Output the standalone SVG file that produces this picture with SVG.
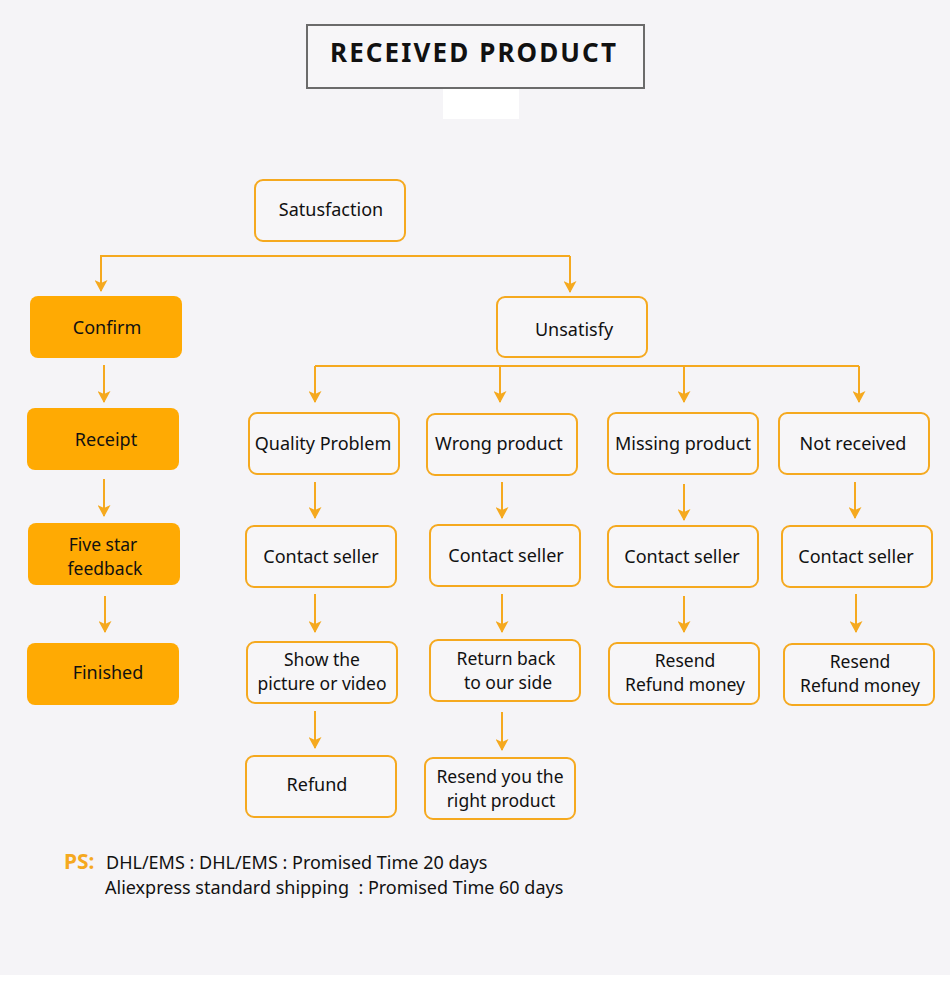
<svg xmlns="http://www.w3.org/2000/svg" width="950" height="982" viewBox="0 0 950 982">
<style>
.bg{fill:#F5F4F7}
.box{fill:#F7F6F8;stroke:#F5A91F;stroke-width:2}
.fill{fill:#FFAA03;stroke:none}
.t{font-family:"Noto Sans","Open Sans",sans-serif;font-size:18px;fill:#111;text-anchor:middle}
.t2{font-family:"Noto Sans","Open Sans",sans-serif;font-size:17.5px;fill:#111;text-anchor:middle}
.c{stroke:#F5A91F;stroke-width:2;fill:none}
.ps{font-family:"Noto Sans","Open Sans",sans-serif;font-size:18px;fill:#111}
</style>
<defs>
<marker id="a" markerWidth="13" markerHeight="13" refX="11" refY="6.5" orient="auto" markerUnits="userSpaceOnUse" viewBox="0 0 13 13">
<path d="M0,0 L12,6.5 L0,13 L3,6.5 Z" fill="#F5A91F"/>
</marker>
</defs>
<rect class="bg" x="0" y="0" width="950" height="975"/>
<rect x="0" y="975" width="950" height="7" fill="#FFFFFF"/>
<rect x="443" y="89" width="76" height="30" fill="#FFFFFF"/>

<g id="title">
<rect x="307" y="25" width="337" height="63" fill="#F7F6F8" stroke="#6B6B6B" stroke-width="2"/>
<text x="474" y="62" font-family="'Noto Sans','Open Sans',sans-serif" font-size="26" font-weight="bold" letter-spacing="2.1" text-anchor="middle" fill="#111">RECEIVED PRODUCT</text>
</g>

<g id="connectors">
<path class="c" d="M570,256 L101,256 L101,291" marker-end="url(#a)"/>
<path class="c" d="M570,256 L570,292" marker-end="url(#a)"/>
<path class="c" d="M315,366 L859,366"/>
<path class="c" d="M315,366 L315,402" marker-end="url(#a)"/>
<path class="c" d="M500,366 L500,402" marker-end="url(#a)"/>
<path class="c" d="M684,366 L684,402" marker-end="url(#a)"/>
<path class="c" d="M859,366 L859,402" marker-end="url(#a)"/>
<path class="c" d="M104,365 L104,402" marker-end="url(#a)"/>
<path class="c" d="M104,479 L104,516" marker-end="url(#a)"/>
<path class="c" d="M105,596 L105,632" marker-end="url(#a)"/>
<path class="c" d="M315,482 L315,518" marker-end="url(#a)"/>
<path class="c" d="M502,482 L502,518" marker-end="url(#a)"/>
<path class="c" d="M684,484 L684,520" marker-end="url(#a)"/>
<path class="c" d="M855,482 L855,518" marker-end="url(#a)"/>
<path class="c" d="M315,594 L315,632" marker-end="url(#a)"/>
<path class="c" d="M502,594 L502,632" marker-end="url(#a)"/>
<path class="c" d="M684,596 L684,632" marker-end="url(#a)"/>
<path class="c" d="M856,594 L856,632" marker-end="url(#a)"/>
<path class="c" d="M315,711 L315,748" marker-end="url(#a)"/>
<path class="c" d="M502,712 L502,750" marker-end="url(#a)"/>
</g>

<g id="satusfaction"><rect class="box" x="255" y="180" width="150" height="61" rx="8"/><text class="t" x="331" y="216">Satusfaction</text></g>
<g id="confirm"><rect class="fill" x="30" y="296" width="152" height="62" rx="8"/><text class="t" x="107" y="334">Confirm</text></g>
<g id="receipt"><rect class="fill" x="27" y="408" width="152" height="62" rx="8"/><text class="t" x="106" y="446">Receipt</text></g>
<g id="fivestar"><rect class="fill" x="28" y="523" width="152" height="62" rx="8"/><text class="t2" x="103" y="550.5">Five star</text><text class="t2" x="105" y="574.5">feedback</text></g>
<g id="finished"><rect class="fill" x="27" y="643" width="152" height="62" rx="8"/><text class="t" x="108" y="679">Finished</text></g>

<g id="unsatisfy"><rect class="box" x="497" y="297" width="150" height="60" rx="8"/><text class="t" x="574" y="336">Unsatisfy</text></g>

<g id="quality"><rect class="box" x="249" y="413" width="150" height="61" rx="8"/><text class="t" x="323" y="450">Quality Problem</text></g>
<g id="wrong"><rect class="box" x="427" y="414" width="150" height="61" rx="8"/><text class="t" x="499" y="450">Wrong product</text></g>
<g id="missing"><rect class="box" x="608" y="413" width="150" height="61" rx="8"/><text class="t" x="683" y="450">Missing product</text></g>
<g id="notreceived"><rect class="box" x="779" y="413" width="150" height="61" rx="8"/><text class="t" x="853" y="450">Not received</text></g>

<g id="contact1"><rect class="box" x="246" y="526" width="150" height="61" rx="8"/><text class="t" x="321" y="563">Contact seller</text></g>
<g id="contact2"><rect class="box" x="430" y="525" width="150" height="61" rx="8"/><text class="t" x="506" y="562">Contact seller</text></g>
<g id="contact3"><rect class="box" x="608" y="526" width="150" height="61" rx="8"/><text class="t" x="682" y="563">Contact seller</text></g>
<g id="contact4"><rect class="box" x="782" y="526" width="150" height="61" rx="8"/><text class="t" x="856" y="563">Contact seller</text></g>

<g id="show"><rect class="box" x="247" y="642" width="150" height="61" rx="8"/><text class="t2" x="322" y="665.5">Show the</text><text class="t2" x="322" y="689.5">picture or video</text></g>
<g id="return"><rect class="box" x="430" y="640" width="150" height="61" rx="8"/><text class="t2" x="506" y="664.5">Return back</text><text class="t2" x="508" y="688.5">to our side</text></g>
<g id="resend3"><rect class="box" x="609" y="643" width="150" height="61" rx="8"/><text class="t2" x="685" y="667">Resend</text><text class="t2" x="685" y="691">Refund money</text></g>
<g id="resend4"><rect class="box" x="784" y="644" width="150" height="61" rx="8"/><text class="t2" x="860" y="667.5">Resend</text><text class="t2" x="860" y="691.5">Refund money</text></g>

<g id="refund"><rect class="box" x="246" y="756" width="150" height="61" rx="8"/><text class="t" x="317" y="791">Refund</text></g>
<g id="resendright"><rect class="box" x="425" y="758" width="150" height="61" rx="8"/><text class="t2" x="500" y="782.5">Resend you the</text><text class="t2" x="501" y="806.5">right product</text></g>

<g id="ps">
<text x="64" y="869" font-family="'Noto Sans','Open Sans',sans-serif" font-size="21" font-weight="bold" fill="#F5A91F">PS:</text>
<text class="ps" x="106" y="869">DHL/EMS : DHL/EMS : Promised Time 20 days</text>
<text class="ps" x="105" y="894" xml:space="preserve">Aliexpress standard shipping  : Promised Time 60 days</text>
</g>
</svg>
